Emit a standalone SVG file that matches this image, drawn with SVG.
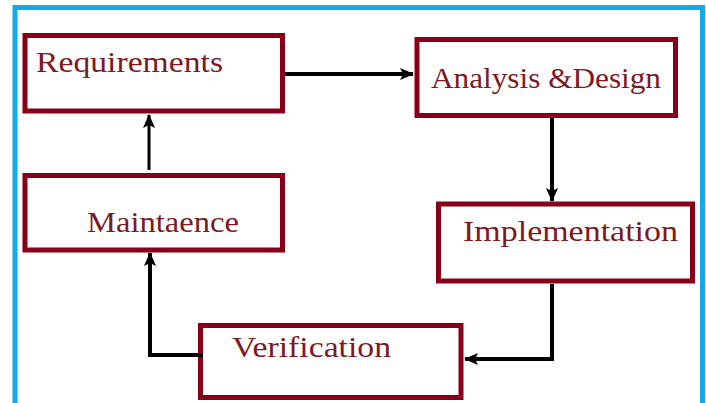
<svg xmlns="http://www.w3.org/2000/svg" width="706" height="403" viewBox="0 0 706 403">
<style>
.box{fill:#fff;stroke:#880018;stroke-width:5}
.lbl{font-family:"Liberation Serif","Times New Roman",serif;font-size:30px;fill:#7e1a1e}
.con{fill:none;stroke:#000;stroke-width:4}
</style>
<defs>
<marker id="ah" markerUnits="userSpaceOnUse" markerWidth="14" markerHeight="12" refX="13" refY="6" orient="auto">
<path d="M0,0 L14,6 L0,12 L3,6 Z" fill="#000"/>
</marker>
</defs>
<rect x="0" y="0" width="706" height="403" fill="#fff"/>
<rect x="15" y="7.5" width="687.5" height="405" fill="none" stroke="#11a9e8" stroke-width="5"/>
<g id="requirements">
<rect class="box" x="25" y="35.5" width="257.5" height="75.5"/>
<text class="lbl" x="36" y="72" textLength="187" lengthAdjust="spacingAndGlyphs">Requirements</text>
</g>
<g id="analysis">
<rect class="box" x="417" y="39.5" width="258.5" height="76"/>
<text class="lbl" x="431" y="88" textLength="230" lengthAdjust="spacingAndGlyphs">Analysis &amp;Design</text>
</g>
<g id="implementation">
<rect class="box" x="438.5" y="204" width="254" height="77"/>
<text class="lbl" x="463" y="241" textLength="215" lengthAdjust="spacingAndGlyphs">Implementation</text>
</g>
<g id="verification">
<rect class="box" x="200.5" y="325.5" width="260.5" height="72"/>
<text class="lbl" x="232" y="357" textLength="159" lengthAdjust="spacingAndGlyphs">Verification</text>
</g>
<g id="maintaence">
<rect class="box" x="25" y="175.5" width="257.5" height="74.5"/>
<text class="lbl" x="87" y="232" textLength="152" lengthAdjust="spacingAndGlyphs">Maintaence</text>
</g>
<g id="connectors">
<path class="con" d="M285,74 H413" marker-end="url(#ah)"/>
<path class="con" d="M552,118 V201" marker-end="url(#ah)"/>
<path class="con" d="M552,284 V359 H465" marker-end="url(#ah)"/>
<path class="con" d="M203,355 H150 V253" marker-end="url(#ah)"/>
<path class="con" d="M149,170 V115" style="stroke-width:3" marker-end="url(#ah)"/>
</g>
</svg>
